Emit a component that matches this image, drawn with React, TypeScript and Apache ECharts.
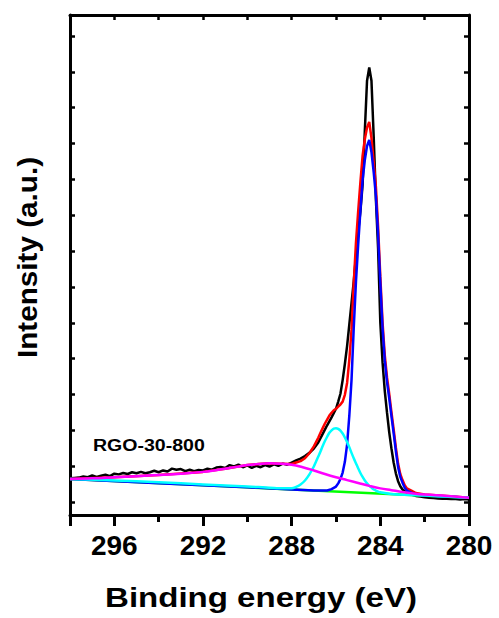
import React, { useEffect, useRef } from "react";
import * as echarts from "echarts";

// Measured spectrum (black), binding energy in eV
const blackEnergy = [
  298.0, 297.8, 297.6, 297.4, 297.2, 297.0, 296.8, 296.6, 296.4, 296.2,
  296.0, 295.8, 295.6, 295.4, 295.2, 295.0, 294.8, 294.6, 294.4, 294.2,
  294.0, 293.8, 293.6, 293.4, 293.2, 293.0, 292.8, 292.6, 292.4, 292.2,
  292.0, 291.8, 291.6, 291.4, 291.2, 291.0, 290.8, 290.6, 290.4, 290.2,
  290.0, 289.8, 289.6, 289.4, 289.2, 289.0, 288.8, 288.6, 288.4, 288.2,
  288.0, 287.8, 287.6, 287.4, 287.2, 287.0, 286.8, 286.6, 286.4, 286.2,
  286.0, 285.9, 285.8, 285.7, 285.6, 285.5, 285.4, 285.3, 285.2, 285.1,
  285.0, 284.9, 284.8, 284.7, 284.6, 284.5, 284.4, 284.3, 284.2, 284.1,
  284.0, 283.9, 283.8, 283.7, 283.6, 283.5, 283.4, 283.3, 283.2, 283.1,
  283.0, 282.8, 282.6, 282.4, 282.2, 282.0, 281.8, 281.6, 281.4, 281.2,
  281.0, 280.8, 280.6, 280.4, 280.2, 280.0,
];
const blackIntensity = [
  0.66, 0.67, 0.68, 0.71, 0.69, 0.74, 0.70, 0.73, 0.76, 0.72,
  0.79, 0.77, 0.81, 0.78, 0.83, 0.80, 0.84, 0.80, 0.83, 0.87,
  0.83, 0.88, 0.85, 0.93, 0.90, 0.92, 0.86, 0.90, 0.86, 0.89,
  0.88, 0.93, 0.90, 0.96, 0.98, 0.95, 1.03, 0.99, 1.04, 0.97,
  1.02, 0.95, 1.01, 0.97, 1.03, 0.99, 1.05, 1.01, 1.07, 1.04,
  1.10, 1.16, 1.21, 1.28, 1.37, 1.49, 1.66, 1.90, 2.14, 2.36,
  2.60, 2.80, 3.02, 3.40, 3.85, 4.35, 4.95, 5.55, 6.15, 6.85,
  7.55, 8.10, 8.85, 10.35, 11.75, 12.12, 11.75, 10.20, 8.45, 7.05,
  5.00, 3.90, 3.10, 2.50, 1.95, 1.50, 1.10, 0.80, 0.58, 0.44,
  0.35, 0.26, 0.21, 0.17, 0.15, 0.13, 0.12, 0.11, 0.10, 0.09,
  0.09, 0.08, 0.08, 0.07, 0.08, 0.07,
];

// Fitted envelope (red)
const fitEnergy = [
  298.0, 296.0, 294.0, 292.0, 291.0, 290.0, 289.5, 289.0, 288.5, 288.0,
  287.8, 287.6, 287.4, 287.2, 287.0, 286.9, 286.8, 286.7, 286.6, 286.5,
  286.4, 286.3, 286.2, 286.1, 286.0, 285.9, 285.8, 285.7, 285.6, 285.5,
  285.4, 285.3, 285.2, 285.1, 285.0, 284.9, 284.8, 284.7, 284.6, 284.5,
  284.4, 284.3, 284.2, 284.1, 284.0, 283.9, 283.8, 283.7, 283.6, 283.5,
  283.4, 283.3, 283.2, 283.1, 283.0, 282.9, 282.8, 282.6, 282.4, 282.0,
  281.0, 280.0,
];
const fitIntensity = [
  0.64, 0.69, 0.75, 0.84, 0.93, 1.03, 1.06, 1.08, 1.07, 1.06,
  1.10, 1.14, 1.22, 1.36, 1.55, 1.67, 1.79, 1.93, 2.06, 2.19,
  2.30, 2.41, 2.49, 2.56, 2.60, 2.66, 2.72, 2.80, 2.99, 3.32,
  3.96, 4.80, 6.09, 7.23, 8.11, 8.92, 9.66, 10.12, 10.45, 10.60,
  10.15, 9.49, 8.79, 7.66, 6.28, 5.01, 4.10, 3.48, 3.02, 2.51,
  2.03, 1.52, 1.07, 0.78, 0.61, 0.47, 0.38, 0.32, 0.25, 0.21,
  0.17, 0.12,
];

// Background (green)
const baseEnergy = [298.0, 280.0];
const baseIntensity = [0.64, 0.12];

// C=C / C-C component (blue)
const peak1Energy = [
  298.0, 294.0, 290.0, 288.0, 287.0, 286.4, 286.2, 286.0, 285.9, 285.8,
  285.7, 285.6, 285.5, 285.4, 285.3, 285.2, 285.1, 285.0, 284.9, 284.8,
  284.7, 284.6, 284.5, 284.4, 284.3, 284.2, 284.1, 284.0, 283.9, 283.8,
  283.7, 283.6, 283.5, 283.4, 283.3, 283.2, 283.1, 283.0, 282.9, 282.8,
  282.6, 282.4, 282.0, 281.0, 280.0,
];
const peak1Intensity = [
  0.64, 0.525, 0.41, 0.35, 0.32, 0.32, 0.36, 0.43, 0.52, 0.64,
  0.82, 1.12, 1.60, 2.40, 3.40, 4.85, 6.14, 7.17, 8.12, 8.98,
  9.54, 9.93, 10.10, 9.76, 9.20, 8.54, 7.45, 6.10, 4.85, 3.95,
  3.35, 2.90, 2.40, 1.92, 1.42, 0.98, 0.70, 0.54, 0.40, 0.32,
  0.26, 0.21, 0.18, 0.15, 0.12,
];

// C-O component (cyan)
const peak2Energy = [
  298.0, 296.0, 294.0, 292.0, 290.0, 289.0, 288.4, 288.0, 287.8, 287.6,
  287.4, 287.2, 287.0, 286.9, 286.8, 286.7, 286.6, 286.5, 286.4, 286.3,
  286.2, 286.1, 286.0, 285.9, 285.8, 285.7, 285.6, 285.5, 285.4, 285.3,
  285.2, 285.1, 285.0, 284.9, 284.8, 284.7, 284.6, 284.5, 284.4, 284.3,
  284.2, 284.1, 284.0, 283.8, 283.6, 283.2, 282.0, 280.0,
];
const peak2Intensity = [
  0.64, 0.60, 0.55, 0.49, 0.43, 0.40, 0.38, 0.38, 0.42, 0.49,
  0.60, 0.77, 0.99, 1.13, 1.27, 1.41, 1.56, 1.70, 1.82, 1.93,
  2.00, 2.05, 2.06, 2.04, 1.99, 1.91, 1.80, 1.67, 1.53, 1.37,
  1.22, 1.08, 0.94, 0.81, 0.70, 0.60, 0.52, 0.45, 0.40, 0.35,
  0.32, 0.29, 0.27, 0.25, 0.23, 0.21, 0.18, 0.12,
];

// O-C=O / broad component (magenta)
const peak3Energy = [
  298.0, 297.0, 296.0, 295.0, 294.0, 293.0, 292.0, 291.5, 291.0, 290.5,
  290.0, 289.5, 289.0, 288.5, 288.0, 287.5, 287.0, 286.5, 286.0, 285.5,
  285.0, 284.5, 284.0, 283.5, 283.0, 282.5, 282.0, 281.0, 280.0,
];
const peak3Intensity = [
  0.64, 0.66, 0.69, 0.72, 0.75, 0.79, 0.84, 0.88, 0.93, 0.98,
  1.03, 1.06, 1.08, 1.07, 1.04, 0.97, 0.88, 0.78, 0.69, 0.61,
  0.53, 0.45, 0.38, 0.33, 0.28, 0.24, 0.21, 0.17, 0.12,
];

const xTickLabels = [296, 292, 288, 284, 280];

const FONT = "'Liberation Sans', Arial, Helvetica, sans-serif";

function pairs(xs: number[], ys: number[]) {
  return xs.map((x, i) => [x, ys[i]]);
}

export default function App() {
  const ref = useRef<HTMLDivElement>(null);

  useEffect(() => {
    if (!ref.current) return;
    const chart = echarts.init(ref.current, null, { renderer: "svg" });

    const line = (name: string, xs: number[], ys: number[], color: string, smooth: number | boolean = false) => ({
      name,
      type: "line",
      data: pairs(xs, ys),
      showSymbol: false,
      symbol: "none",
      smooth,
      lineStyle: { color, width: 2.5 },
      itemStyle: { color },
      z: 2,
    });

    const yCommon = {
      type: "value",
      min: -0.363,
      max: 13.586,
      splitNumber: 14,
      minInterval: 1,
      maxInterval: 1,
      axisLine: { show: true, onZero: false, lineStyle: { color: "#000", width: 3 } },
      axisTick: { show: true, inside: true, length: 5, lineStyle: { color: "#000", width: 2.5 } },
      axisLabel: { show: false },
      splitLine: { show: false },
    };

    chart.setOption({
      animation: false,
      backgroundColor: "#ffffff",
      grid: { left: 70, right: 30, top: 15, bottom: 103, containLabel: false },
      xAxis: [
        {
          type: "value",
          position: "bottom",
          min: 280,
          max: 298,
          interval: 4,
          inverse: true,
          axisLine: { show: true, onZero: false, lineStyle: { color: "#000", width: 3 } },
          axisTick: { show: true, inside: false, length: 11, lineStyle: { color: "#000", width: 3 } },
          minorTick: { show: true, splitNumber: 2, length: 7, lineStyle: { color: "#000", width: 3 } },
          axisLabel: {
            show: true,
            margin: 16,
            color: "#000",
            fontFamily: FONT,
            fontWeight: "bold",
            fontSize: 28,
            formatter: (v: number) => (xTickLabels.indexOf(v) >= 0 ? String(v) : ""),
          },
          splitLine: { show: false },
          minorSplitLine: { show: false },
        },
        {
          type: "value",
          position: "top",
          min: 280,
          max: 298,
          interval: 2,
          inverse: true,
          axisLine: { show: true, onZero: false, lineStyle: { color: "#000", width: 3 } },
          axisTick: { show: true, inside: true, length: 5, lineStyle: { color: "#000", width: 2.5 } },
          axisLabel: { show: false },
          splitLine: { show: false },
        },
      ],
      yAxis: [
        { ...yCommon, position: "left" },
        { ...yCommon, position: "right" },
      ],
      series: [
        line("Raw", blackEnergy, blackIntensity, "#000000"),
        line("Fit", fitEnergy, fitIntensity, "#ff0000"),
        line("Background", baseEnergy, baseIntensity, "#00ff00"),
        line("C-C", peak1Energy, peak1Intensity, "#0000ff"),
        line("C-O", peak2Energy, peak2Intensity, "#00ffff", 0.3),
        line("O-C=O", peak3Energy, peak3Intensity, "#ff00ff", 0.4),
      ],
      graphic: [
        {
          type: "text",
          x: 27,
          y: 257.5,
          rotation: Math.PI / 2,
          scaleX: 1.06,
          style: {
            text: "Intensity (a.u.)",
            fontFamily: FONT,
            fontWeight: "bold",
            fontSize: 28,
            fill: "#000",
            align: "center",
            verticalAlign: "middle",
          },
        },
        {
          type: "text",
          x: 261,
          y: 597,
          scaleX: 1.18,
          style: {
            text: "Binding energy (eV)",
            fontFamily: FONT,
            fontWeight: "bold",
            fontSize: 28,
            fill: "#000",
            align: "center",
            verticalAlign: "middle",
          },
        },
        {
          type: "text",
          x: 93,
          y: 444.5,
          scaleX: 1.15,
          style: {
            text: "RGO-30-800",
            fontFamily: FONT,
            fontWeight: "bold",
            fontSize: 17,
            fill: "#000",
            align: "left",
            verticalAlign: "middle",
          },
        },
      ],
    });

    return () => chart.dispose();
  }, []);

  return (
    <div
      ref={ref}
      style={{ position: "fixed", left: 0, top: 0, width: 499, height: 618, background: "#fff" }}
    />
  );
}
